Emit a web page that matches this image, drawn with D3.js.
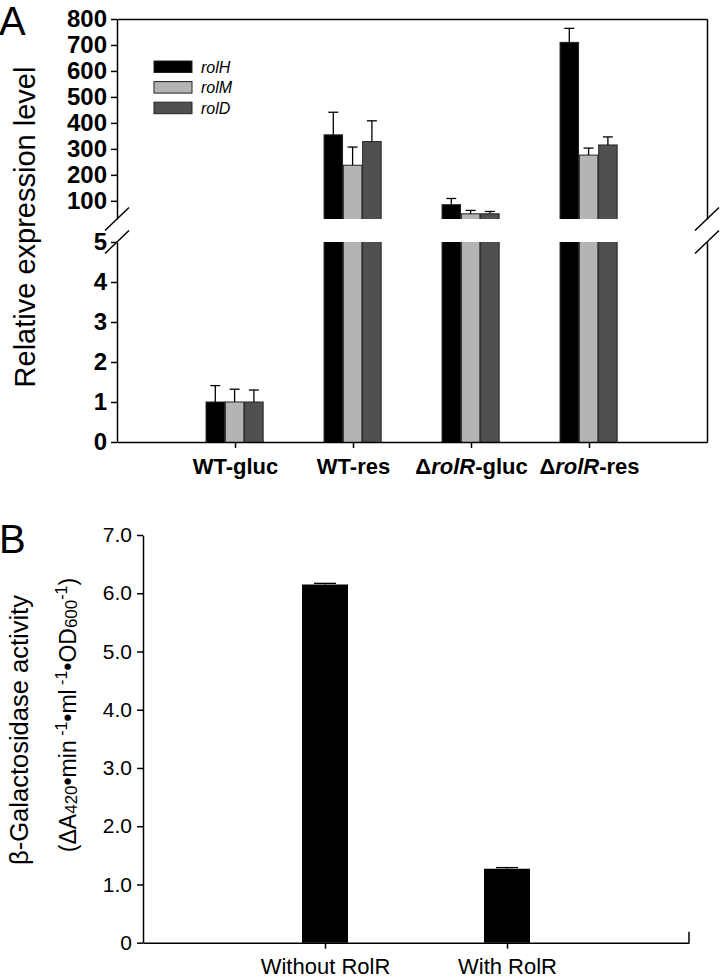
<!DOCTYPE html>
<html>
<head>
<meta charset="utf-8">
<script src="https://cdn.jsdelivr.net/npm/d3@7"></script>
<style>
  body { margin: 0; background: #fff; }
  svg { font-family: "Liberation Sans", Arial, sans-serif; }
  .axis path, .axis line { stroke: #000; stroke-width: 1.5; }
  .axis text { fill: #000; }
</style>
</head>
<body>
<div class="chart"></div>
<script>
// panel A data
var categories = ["WT-gluc", "WT-res", "ΔrolR-gluc", "ΔrolR-res"];
var genes = ["rolH", "rolM", "rolD"];
var rolH = [1, 354, 85, 710];
var rolHErr = [0.41, 87, 24, 54];
var rolM = [1, 237, 50, 276];
var rolMErr = [0.32, 70, 13, 27];
var rolD = [1, 328, 50, 315];
var rolDErr = [0.3, 80, 9, 31];
var upperTicks = [100, 200, 300, 400, 500, 600, 700, 800];
var lowerTicks = [0, 1, 2, 3, 4, 5];

// panel B data
var bCategories = ["Without RolR", "With RolR"];
var bValues = [6.15, 1.27];
var bErr = [0.02, 0.02];
var bTicks = [0, 1, 2, 3, 4, 5, 6, 7];

var geneColors = ["#000000", "#b4b4b4", "#505050"];

var svg = d3.select(".chart")
  .append("svg")
  .attr("width", 720)
  .attr("height", 978);

// ---------- Panel A ----------
var x = d3.scaleLinear().domain([0, 5]).range([117, 707]);
var yHi = d3.scaleLinear().domain([30, 800]).range([219, 19]);
var yLo = d3.scaleLinear().domain([0, 5]).range([442, 242]);

var defs = svg.append("defs");
defs.append("clipPath").attr("id", "clipHi")
  .append("rect").attr("x", 117).attr("y", 0).attr("width", 590).attr("height", yHi(30));
defs.append("clipPath").attr("id", "clipLo")
  .append("rect").attr("x", 117).attr("y", yLo(5)).attr("width", 590).attr("height", yLo(0) - yLo(5));

var series = [
  { name: genes[0], vals: rolH, err: rolHErr },
  { name: genes[1], vals: rolM, err: rolMErr },
  { name: genes[2], vals: rolD, err: rolDErr }
];

var barW = 18.5;
function barX(i, j) { return x(i + 1) + (j - 1.5) * 19.3; }

// draws bars + error bars for one segment of the broken axis
function drawSegment(yScale, clipId, lo, hi) {
  var g = svg.append("g").attr("clip-path", "url(#" + clipId + ")");
  series.forEach(function(s, j) {
    s.vals.forEach(function(v, i) {
      var top = yScale(Math.min(v, hi + (hi - lo) * 0.05));
      var bottom = yScale(lo) + 3;
      if (v < lo) return;
      g.append("rect")
        .attr("x", barX(i, j))
        .attr("y", top)
        .attr("width", barW)
        .attr("height", bottom - top)
        .attr("fill", geneColors[j])
        .attr("stroke", "#222")
        .attr("stroke-width", 1);
      var e = v + s.err[i];
      if (v <= hi && e > lo) {
        var cx = barX(i, j) + barW / 2;
        g.append("line")
          .attr("x1", cx).attr("x2", cx)
          .attr("y1", yScale(v)).attr("y2", yScale(e))
          .attr("stroke", "#000").attr("stroke-width", 1.3);
        g.append("line")
          .attr("x1", cx - 5).attr("x2", cx + 5)
          .attr("y1", yScale(e)).attr("y2", yScale(e))
          .attr("stroke", "#000").attr("stroke-width", 1.3);
      }
    });
  });
}
drawSegment(yHi, "clipHi", 30, 800);
drawSegment(yLo, "clipLo", 0, 5);

// axes
svg.append("g").attr("class", "axis")
  .attr("transform", "translate(117,0)")
  .call(d3.axisLeft(yHi).tickValues(upperTicks).tickSize(6).tickSizeOuter(0).tickPadding(4)
    .tickFormat(d3.format("d")))
  .selectAll("text").style("font-size", "24px").style("font-weight", "bold");

svg.append("g").attr("class", "axis")
  .attr("transform", "translate(117,0)")
  .call(d3.axisLeft(yLo).tickValues(lowerTicks).tickSize(6).tickSizeOuter(0).tickPadding(4)
    .tickFormat(d3.format("d")))
  .selectAll("text").style("font-size", "24px").style("font-weight", "bold");

svg.append("g").attr("class", "axis")
  .attr("transform", "translate(707,0)")
  .call(d3.axisRight(yHi).tickValues([]).tickSizeOuter(0));
svg.append("g").attr("class", "axis")
  .attr("transform", "translate(707,0)")
  .call(d3.axisRight(yLo).tickValues([]).tickSizeOuter(0));
svg.append("g").attr("class", "axis")
  .attr("transform", "translate(0," + yHi(800) + ")")
  .call(d3.axisTop(x).tickValues([]).tickSizeOuter(0));

var xAxisA = svg.append("g").attr("class", "axis")
  .attr("transform", "translate(0," + yLo(0) + ")")
  .call(d3.axisBottom(x).tickValues([1, 2, 3, 4]).tickSize(6).tickSizeOuter(0).tickPadding(10)
    .tickFormat(function(d) { return categories[d - 1]; }));

xAxisA.selectAll("text")
  .style("font-size", "22px").style("font-weight", "bold")
  .each(function(d) {
    var label = categories[d - 1];
    if (label.charAt(0) === "Δ") {
      var t = d3.select(this).text(null);
      var rest = label.slice(5);
      t.append("tspan").text("Δ");
      t.append("tspan").style("font-style", "italic").text("rolR");
      t.append("tspan").text(rest);
    }
  });

// break marks
[117, 707].forEach(function(ax) {
  [yHi(30), yLo(5)].forEach(function(by) {
    svg.append("line")
      .attr("x1", ax + 12).attr("y1", by - 11.5)
      .attr("x2", ax - 12).attr("y2", by + 11.5)
      .attr("stroke", "#000").attr("stroke-width", 1.5);
  });
});

// legend
var legend = svg.append("g").attr("transform", "translate(154,61)");
genes.forEach(function(gname, j) {
  var row = legend.append("g").attr("transform", "translate(0," + j * 20.6 + ")");
  row.append("rect")
    .attr("width", 38).attr("height", 11.5)
    .attr("fill", geneColors[j])
    .attr("stroke", "#222").attr("stroke-width", 1);
  row.append("text")
    .attr("x", 47).attr("y", 11.5)
    .style("font-size", "16px").style("font-style", "italic")
    .text(gname);
});

// y title A
svg.append("text")
  .attr("transform", "translate(35," + 227 + ") rotate(-90)")
  .attr("text-anchor", "middle")
  .style("font-size", "29px")
  .text("Relative expression level");

svg.append("text")
  .attr("x", -1).attr("y", 35)
  .style("font-size", "40px")
  .text("A");

// ---------- Panel B ----------
var xB = d3.scaleLinear().domain([0, 3]).range([143, 689]);
var yB = d3.scaleLinear().domain([0, 7]).range([942.7, 535]);
var bBarW = 46;

svg.append("g")
  .selectAll("rect")
  .data(bValues)
  .enter()
  .append("rect")
  .attr("x", (d, i) => xB(i + 1) - bBarW / 2)
  .attr("y", d => yB(d))
  .attr("width", bBarW)
  .attr("height", d => yB(0) - yB(d))
  .attr("fill", "#000");

bValues.forEach(function(v, i) {
  var cx = xB(i + 1);
  svg.append("line")
    .attr("x1", cx).attr("x2", cx)
    .attr("y1", yB(v)).attr("y2", yB(v + bErr[i]))
    .attr("stroke", "#000").attr("stroke-width", 1.3);
  svg.append("line")
    .attr("x1", cx - 11).attr("x2", cx + 11)
    .attr("y1", yB(v + bErr[i])).attr("y2", yB(v + bErr[i]))
    .attr("stroke", "#000").attr("stroke-width", 1.3);
});

svg.append("g").attr("class", "axis")
  .attr("transform", "translate(143,0)")
  .call(d3.axisLeft(yB).tickValues(bTicks).tickSize(6).tickSizeOuter(0).tickPadding(5)
    .tickFormat(d => d === 0 ? "0" : d3.format(".1f")(d)))
  .selectAll("text").style("font-size", "21px");

svg.append("g").attr("class", "axis")
  .attr("transform", "translate(0," + yB(0) + ")")
  .call(d3.axisBottom(xB).tickValues([1, 2]).tickSize(6).tickSizeOuter(0).tickPadding(10)
    .tickFormat(d => bCategories[d - 1]))
  .selectAll("text").style("font-size", "22px");

// small end tick at the right of the B x axis
svg.append("line")
  .attr("x1", xB(3)).attr("x2", xB(3))
  .attr("y1", yB(0)).attr("y2", yB(0) - 11)
  .attr("stroke", "#000").attr("stroke-width", 1.5);

// y title B
svg.append("text")
  .attr("transform", "translate(28,730) rotate(-90)")
  .attr("text-anchor", "middle")
  .style("font-size", "25.5px")
  .text("β-Galactosidase activity");

var sub = svg.append("text")
  .attr("transform", "translate(76,715) rotate(-90)")
  .attr("text-anchor", "middle")
  .style("font-size", "23px");
sub.append("tspan").text("(ΔA");
sub.append("tspan").attr("dy", 1).style("font-size", "17px").text("420");
sub.append("tspan").attr("dy", -1).text("•min");
sub.append("tspan").attr("dy", -9).style("font-size", "16px").text(" -1");
sub.append("tspan").attr("dy", 9).text("•ml");
sub.append("tspan").attr("dy", -9).style("font-size", "16px").text(" -1");
sub.append("tspan").attr("dy", 9).text("•OD");
sub.append("tspan").attr("dy", 1).style("font-size", "17px").text("600");
sub.append("tspan").attr("dy", -10).style("font-size", "16px").text("-1");
sub.append("tspan").attr("dy", 9).text(")");

svg.append("text")
  .attr("x", -1).attr("y", 553)
  .style("font-size", "40px")
  .text("B");
</script>
</body>
</html>
